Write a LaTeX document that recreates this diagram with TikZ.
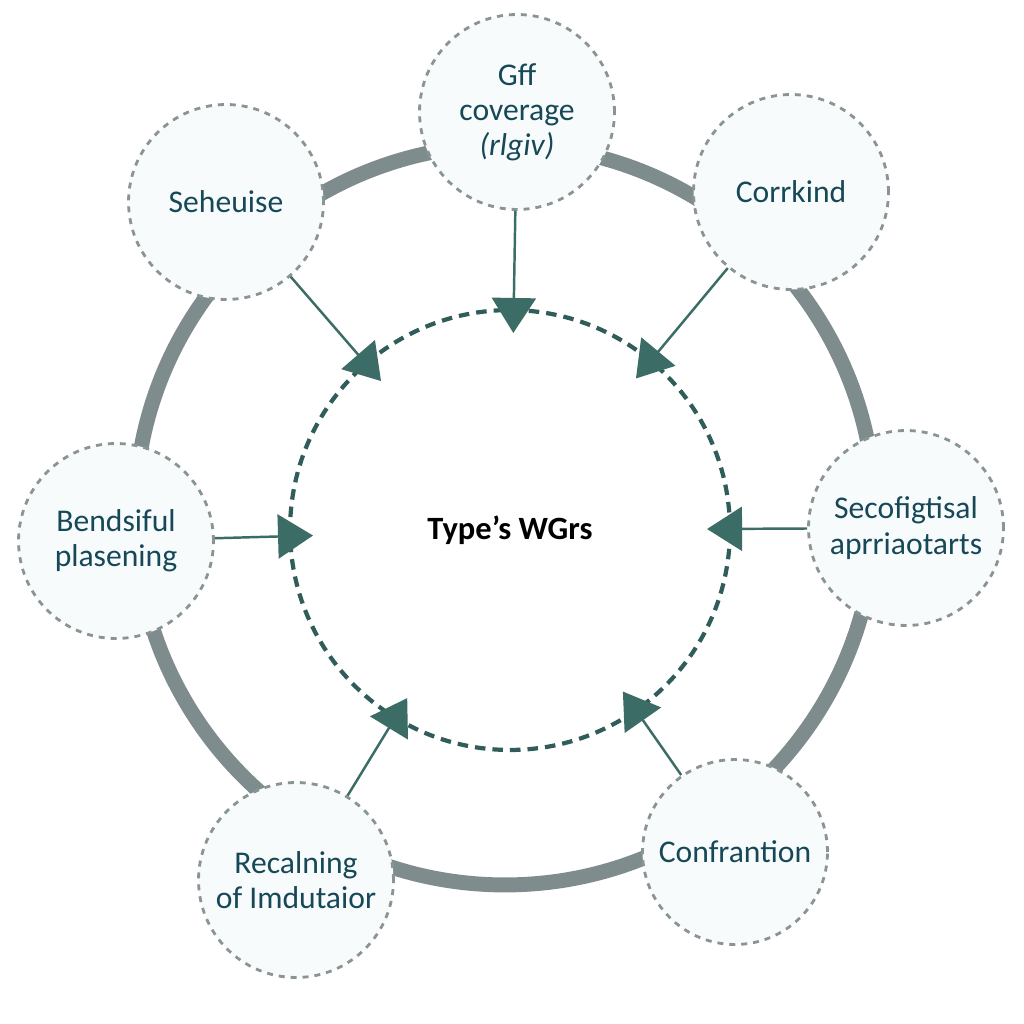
\documentclass[tikz,border=0pt]{standalone}
\usepackage{fontspec}
\setmainfont{Carlito}
\usetikzlibrary{arrows.meta}
\definecolor{ringgray}{RGB}{126,140,142}
\definecolor{hubteal}{RGB}{48,92,90}
\definecolor{arrteal}{RGB}{60,108,102}
\definecolor{dotgray}{RGB}{138,148,148}
\definecolor{labteal}{RGB}{22,72,88}
\definecolor{satfill}{RGB}{248,251,251}
\tikzset{
  ring/.style={line width=8.5pt, ringgray},
  hub/.style={circle, draw=hubteal, line width=2.4pt, dash pattern=on 6pt off 4pt,
              minimum size=8.8cm, inner sep=0pt, font=\fontsize{18.5}{21}\selectfont\bfseries},
  sat/.style={circle, draw=dotgray, line width=1.6pt, dash pattern=on 3.4pt off 3.4pt,
              fill=satfill, minimum size=3.9cm, inner sep=0pt, align=center,
              text=labteal, font=\fontsize{18}{20}\selectfont},
  feed/.style={-{Triangle[length=7mm, width=8.8mm]}, line width=1.4pt, arrteal,
               shorten >=-5mm}
}
\begin{document}
\begin{tikzpicture}[x=0.02cm, y=-0.02cm]
\useasboundingbox[fill=white] (0,0) rectangle (1024,1024);
% outer ring
\coordinate (ringc) at (505,515);
\draw[ring] (ringc) circle[radius=7.4cm];
% centre
\node[hub] (types) at (510,530) {Type’s WGrs};
% satellites
\node[sat] (cover) at (517,112) {Gff\\coverage\\\textit{(rlgiv)}};
\node[sat] (sehe) at (226,202) {Seheuise};
\node[sat] (cork) at (791,192) {Corrkind};
\node[sat] (bend) at (116,541) {Bendsiful\\plasening};
\node[sat] (seco) at (906,528) {Secofigtisal\\aprriaotarts};
\node[sat] (recal) at (296,880) {Recalning\\of Imdutaior};
\node[sat, minimum size=3.7cm] (confr) at (735,852) {Confrantion};
% arrows into the centre
\foreach \s in {cover,sehe,cork,bend,seco,recal,confr}
  \draw[feed] (\s) -- (types);
\end{tikzpicture}
\end{document}
